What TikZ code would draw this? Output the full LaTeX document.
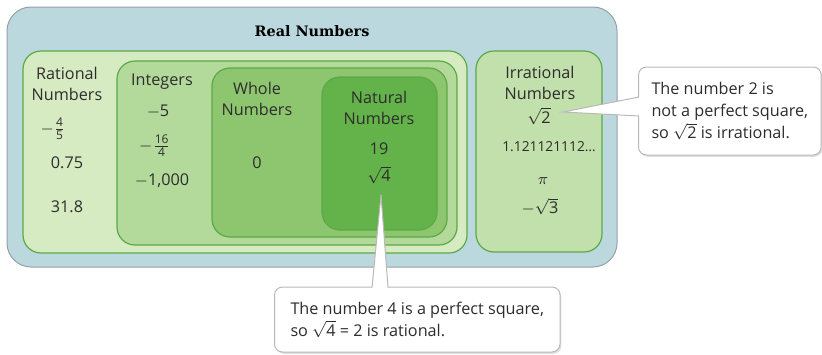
\documentclass[tikz,border=0pt]{standalone}
\usepackage{amsmath}
\usepackage{fontspec}
\setmainfont{Open Sans}
\newfontfamily\titlefont{DejaVu Serif}
\usepackage{tikz}
\usetikzlibrary{positioning,shadows}
\usepackage{xcolor}
\definecolor{realBlue}{RGB}{188,216,223}
\definecolor{ratFill}{RGB}{215,235,195}
\definecolor{intFill}{RGB}{180,218,155}
\definecolor{wholeFill}{RGB}{142,198,112}
\definecolor{natFill}{RGB}{100,178,74}
\definecolor{irrFill}{RGB}{194,224,172}
\definecolor{setLine}{RGB}{92,168,70}
\definecolor{frameGray}{RGB}{150,160,165}
\definecolor{noteGray}{RGB}{185,185,185}
\definecolor{inkGray}{RGB}{45,45,45}
\newcommand{\stackfrac}[2]{\ensuremath{\genfrac{}{}{0.4pt}{}{\mbox{\fontsize{6}{6}\selectfont#1}}{\mbox{\fontsize{6}{6}\selectfont#2}}}}

\begin{document}
\begin{tikzpicture}[x=0.5pt, y=-0.5pt, every node/.style={text=inkGray, inner sep=0pt},
  setbox/.style={draw=setLine, line width=0.6pt, rounded corners=9pt},
  setname/.style={align=center, font=\fontsize{8.1}{10.3}\selectfont},
  entry/.style={font=\fontsize{8.1}{10}\selectfont},
  note/.style={draw=noteGray, fill=white, line width=0.5pt, rounded corners=4pt, align=left,
    anchor=west, inner xsep=7.6pt, font=\fontsize{8.1}{11}\selectfont,
    drop shadow={shadow xshift=0.7pt, shadow yshift=-0.9pt, opacity=0.25, fill=black!50}}]
  \useasboundingbox (0,0) rectangle (822,354);
  % ---------------- SETS ----------------
  \draw[frameGray, line width=0.5pt, fill=realBlue, rounded corners=12pt] (7,7) rectangle (617,267);
  \draw[setbox, fill=ratFill] (23,51) rectangle (467,253);
  \draw[setbox, fill=intFill] (117,61) rectangle (457,245);
  \draw[setbox, fill=wholeFill] (212,68) rectangle (447,237);
  \draw[setbox, fill=natFill] (322,77) rectangle (437,230);
  \draw[setbox, fill=irrFill] (476,51) rectangle (602,252);
  % ---------------- LABELS ----------------
  \node[font=\titlefont\bfseries\fontsize{7.2}{8}\selectfont, text=black] (real) at (312,31) {Real Numbers};
  \node[setname] (rat) at (67,84) {Rational\\Numbers};
  \node[entry] (ratA) at (53,129) {$-$\stackfrac{4}{5}};
  \node[entry] (ratB) at (67,163) {0.75};
  \node[entry] (ratC) at (67,207) {31.8};
  \node[setname] (int) at (162,82) {Integers};
  \node[entry] (intA) at (158,112) {$-$5};
  \node[entry] (intB) at (155,146) {$-$\stackfrac{16}{4}};
  \node[entry] (intC) at (162,181) {$-$1,000};
  \node[setname] (whole) at (257,99) {Whole\\Numbers};
  \node[entry] (wholeA) at (257,163) {0};
  \node[setname] (nat) at (379,108) {Natural\\Numbers};
  \node[entry] (natA) at (379,149) {19};
  \node[entry] (natB) at (379,175) {$\sqrt{\mbox{4}}$};
  \node[setname] (irr) at (540,83) {Irrational\\Numbers};
  \node[entry] (irrA) at (539,116) {$\sqrt{\mbox{2}}$};
  \node[entry, font=\fontsize{6.9}{8}\selectfont] (irrB) at (549,147) {1.121121112…};
  \node[entry] (irrC) at (543,181) {$\pi$};
  \node[entry] (irrD) at (540,207) {$-\sqrt{\mbox{3}}$};
  % ---------------- CALLOUTS ----------------
  \node[note, minimum height=44pt, inner xsep=6.5pt] (note2) at (638,111)
    {The number 2 is\\not a perfect square,\\so $\sqrt{\mbox{2}}$ is irrational.};
  \coordinate (tip2) at (563,112);
  \fill[white] ([shift={(3,-14)}]note2.west) -- (tip2) -- ([shift={(3,5)}]note2.west) -- cycle;
  \draw[noteGray, line width=0.5pt] ([shift={(1,-14)}]note2.west) -- (tip2) -- ([shift={(1,5)}]note2.west);
  \node[note, minimum height=32.5pt, inner xsep=8pt] (note4) at (274,319.5)
    {The number 4 is a perfect square,\\so $\sqrt{\mbox{4}}$ = 2 is rational.};
  \coordinate (tip4) at (381,195);
  \fill[white] ([shift={(-9,3)}]note4.north west -| tip4) -- (tip4) -- ([shift={(7,3)}]note4.north west -| tip4) -- cycle;
  \draw[noteGray, line width=0.5pt] ([shift={(-9,1)}]note4.north west -| tip4) -- (tip4) -- ([shift={(7,1)}]note4.north west -| tip4);
\end{tikzpicture}
\end{document}
